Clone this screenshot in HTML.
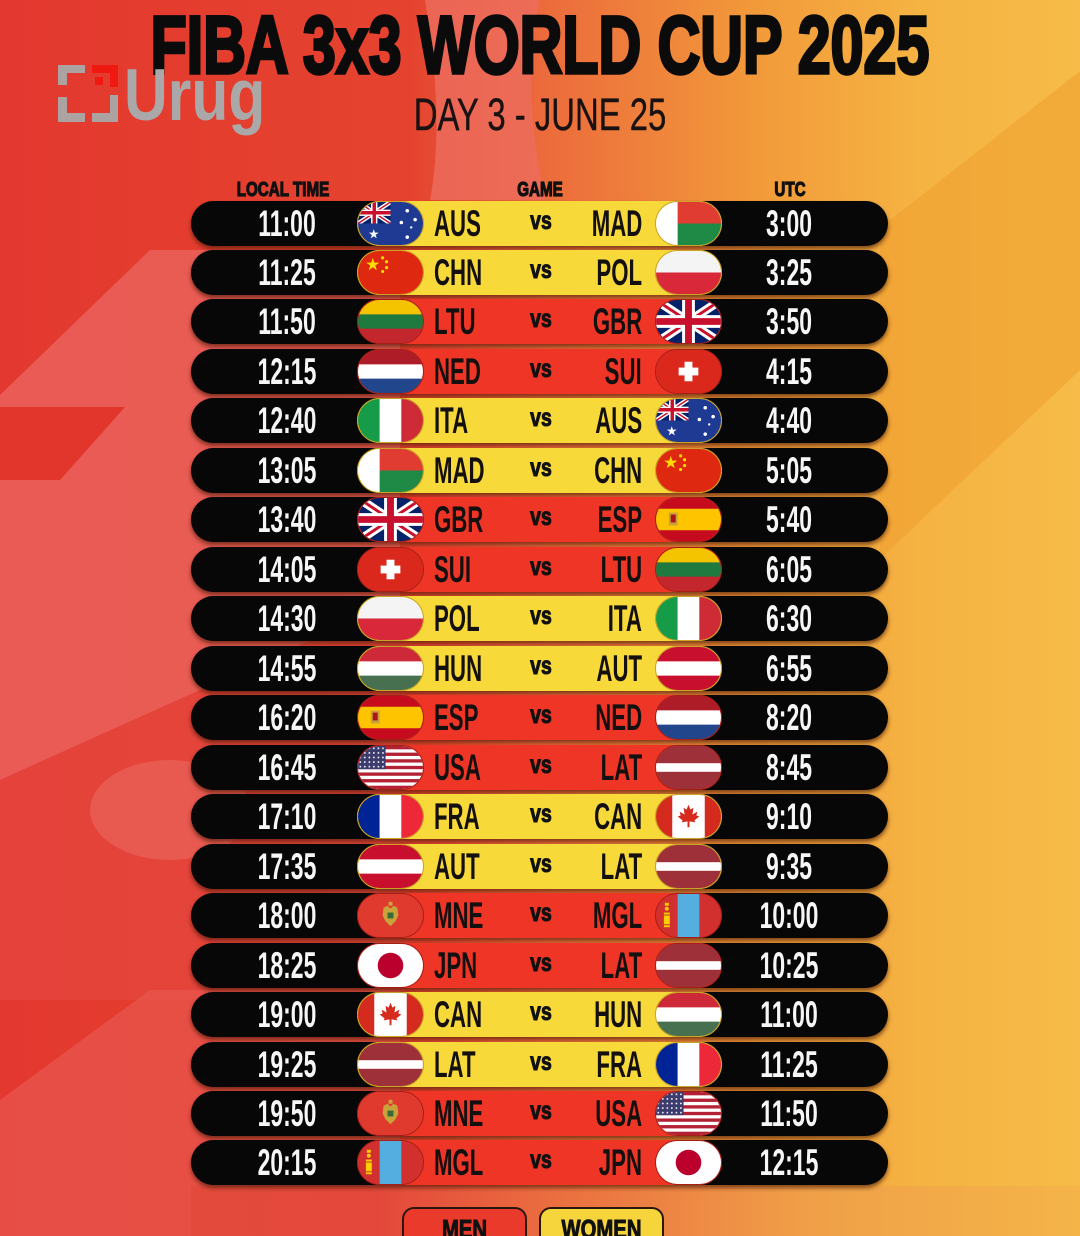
<!DOCTYPE html>
<html><head><meta charset="utf-8">
<style>
*{margin:0;padding:0}
html,body{width:1080px;height:1236px;overflow:hidden}
body{font-family:"Liberation Sans",sans-serif;background:#e8603a}
#wrap{position:relative;width:1080px;height:1236px;overflow:hidden}
.abs{position:absolute}
.title{position:absolute;left:0;top:5px;width:1080px;text-align:center;font-size:82px;line-height:82px;font-weight:bold;color:#0b0b0b;-webkit-text-stroke:3.5px #0b0b0b;transform:scaleX(.721);white-space:nowrap}
.sub{position:absolute;left:0;top:92px;width:1080px;text-align:center;font-size:45px;line-height:45px;color:#1a1212;-webkit-text-stroke:.4px #1a1212;transform:scaleX(.73);white-space:nowrap}
.logo{position:absolute;left:124px;top:59px;font-size:73px;line-height:73px;font-weight:bold;color:#aaa8a8;transform:scaleX(.83);transform-origin:0 50%;white-space:nowrap}
.hd{position:absolute;top:180px;width:200px;text-align:center;font-size:20px;line-height:20px;font-weight:bold;color:#111;-webkit-text-stroke:1.2px #111;transform:scaleX(.76);white-space:nowrap}
.row{position:absolute;left:191px;width:697px;height:45px;background:#070707;border-radius:23px;box-shadow:0 3px 4px rgba(70,25,5,.65)}
.band{position:absolute;left:166px;top:0;width:365px;height:45px;border-radius:23px}
.y .band{background:#f7d93a}
.r .band{background:#ee3526}
.fl{position:absolute;top:0;width:67px;height:45px;border-radius:23px;overflow:hidden;box-sizing:border-box;border:1.5px solid #c9a227}
.r .fl{border-color:#a51f17}
.fl svg{display:block;width:100%;height:100%}
.fl.l{left:166px}
.fl.rt{left:464px}
.tm{position:absolute;top:0;width:140px;height:45px;line-height:45px;text-align:center;color:#f6f6f6;font-size:37px;font-weight:bold;transform:scaleX(.62);white-space:nowrap}
.tm.a{left:26px}
.tm.b{left:528px}
.cd{position:absolute;top:0;height:45px;line-height:45px;font-size:37px;font-weight:bold;color:#141010;white-space:nowrap}
.cd.a{left:243px;transform:scaleX(.6);transform-origin:0 50%}
.cd.b{right:246px;transform:scaleX(.6);transform-origin:100% 50%}
.vs{position:absolute;left:320px;width:60px;top:-2px;height:45px;line-height:45px;text-align:center;font-size:25px;font-weight:bold;color:#111;-webkit-text-stroke:1px #111;transform:scaleX(.78)}
.lg{position:absolute;top:1207px;width:125px;height:52px;border:2px solid #2a1810;border-radius:12px;box-sizing:border-box}
.lgt{position:absolute;top:1216px;width:125px;text-align:center;font-size:26px;line-height:26px;font-weight:bold;color:#111;-webkit-text-stroke:1px #111;transform:scaleX(.78);white-space:nowrap}
</style></head><body><div id="wrap">

<svg class="abs" style="left:0;top:0" width="1080" height="1236">
<defs>
<linearGradient id="g" x1="0" y1="0" x2="1080" y2="0" gradientUnits="userSpaceOnUse">
<stop offset="0" stop-color="#e3382f"/>
<stop offset=".38" stop-color="#e5432f"/>
<stop offset=".5" stop-color="#ec6a3c"/>
<stop offset=".7" stop-color="#f29a3a"/>
<stop offset=".85" stop-color="#f5b342"/>
<stop offset="1" stop-color="#f6bb48"/>
</linearGradient>
<linearGradient id="g2" x1="0" y1="0" x2="1080" y2="0" gradientUnits="userSpaceOnUse">
<stop offset="0" stop-color="#e24c3e"/>
<stop offset=".35" stop-color="#e4483a"/>
<stop offset=".52" stop-color="#eb7040"/>
<stop offset=".75" stop-color="#f0a048"/>
<stop offset="1" stop-color="#f4b448"/>
</linearGradient>
</defs>
<rect width="1080" height="1236" fill="url(#g)"/>
<path d="M425,0 L540,0 Q520,80 545,200 L430,200 Q445,120 425,0Z" fill="#ec6d5e" opacity=".8"/>
<path d="M0,395 L150,250 L400,250 L400,600 L0,780Z" fill="#ea625a" opacity=".85"/>
<path d="M0,407 L125,407 L60,480 L0,480Z" fill="#e2352c"/>
<path d="M0,780 L400,600 L400,1000 L0,1000Z" fill="#e54a42" opacity=".6"/>
<ellipse cx="170" cy="810" rx="80" ry="50" fill="#ea625a" opacity=".7"/>
<path d="M0,1100 L150,990 L400,990 L400,1236 L0,1236Z" fill="#e8574e" opacity=".7"/>
<rect x="191" y="1186" width="889" height="50" fill="url(#g2)"/>
<path d="M880,228 L1080,71 L1080,370 L880,559Z" fill="#f0a030" opacity=".6"/>
<defs>
<pattern id="st" width="4.6" height="4.7" patternUnits="userSpaceOnUse"><circle cx="2.3" cy="2.35" r=".9" fill="#fff"/></pattern>
<symbol id="GBR" viewBox="0 0 66 44" preserveAspectRatio="none">
<rect width="66" height="44" fill="#012169"/>
<path d="M0,0L66,44M66,0L0,44" stroke="#fff" stroke-width="9"/>
<path d="M0,0L66,44M66,0L0,44" stroke="#C8102E" stroke-width="3"/>
<path d="M33,0V44M0,22H66" stroke="#fff" stroke-width="13"/>
<path d="M33,0V44M0,22H66" stroke="#C8102E" stroke-width="7"/>
</symbol>
<symbol id="AUS" viewBox="0 0 66 44" preserveAspectRatio="none">
<rect width="66" height="44" fill="#1f3a93"/>
<use href="#GBR" x="0" y="0" width="33" height="22"/>
<polygon transform="translate(16,33) scale(.75) translate(-15,-14)" fill="#fff" points="15,7 16.57,11.84 21.66,11.84 17.54,14.83 19.11,19.66 15,16.67 10.89,19.66 12.46,14.83 8.34,11.84 13.43,11.84"/>
<circle cx="50" cy="9" r="1.8" fill="#fff"/><circle cx="58" cy="18" r="1.8" fill="#fff"/><circle cx="44" cy="21" r="1.8" fill="#fff"/><circle cx="54" cy="26" r="1.2" fill="#fff"/><circle cx="50" cy="36" r="1.8" fill="#fff"/>
</symbol>
<symbol id="MAD" viewBox="0 0 66 44" preserveAspectRatio="none"><rect width="22" height="44" fill="#fff"/><rect x="22" width="44" height="22" fill="#e03c31"/><rect x="22" y="22" width="44" height="22" fill="#1e8a46"/></symbol>
<symbol id="CHN" viewBox="0 0 66 44" preserveAspectRatio="none"><rect width="66" height="44" fill="#de2910"/>
<polygon fill="#ffde00" points="15,7 16.57,11.84 21.66,11.84 17.54,14.83 19.11,19.66 15,16.67 10.89,19.66 12.46,14.83 8.34,11.84 13.43,11.84"/>
<circle cx="25" cy="7" r="1.6" fill="#ffde00"/><circle cx="29" cy="11" r="1.6" fill="#ffde00"/><circle cx="29" cy="17" r="1.6" fill="#ffde00"/><circle cx="25" cy="21" r="1.6" fill="#ffde00"/></symbol>
<symbol id="POL" viewBox="0 0 66 44" preserveAspectRatio="none"><rect width="66" height="22" fill="#f4f4f4"/><rect y="22" width="66" height="22" fill="#d9283a"/></symbol>
<symbol id="LTU" viewBox="0 0 66 44" preserveAspectRatio="none"><rect width="66" height="15" fill="#f5c400"/><rect y="14.7" width="66" height="15" fill="#1e7a3e"/><rect y="29.3" width="66" height="15" fill="#c1272d"/></symbol>
<symbol id="NED" viewBox="0 0 66 44" preserveAspectRatio="none"><rect width="66" height="15" fill="#ae1c28"/><rect y="14.7" width="66" height="15" fill="#fff"/><rect y="29.3" width="66" height="15" fill="#21468b"/></symbol>
<symbol id="SUI" viewBox="0 0 66 44" preserveAspectRatio="none"><rect width="66" height="44" fill="#da291c"/><rect x="29" y="12" width="8" height="20" fill="#fff"/><rect x="23" y="18" width="20" height="8" fill="#fff"/></symbol>
<symbol id="ITA" viewBox="0 0 66 44" preserveAspectRatio="none"><rect width="22" height="44" fill="#169b48"/><rect x="22" width="22" height="44" fill="#fff"/><rect x="44" width="22" height="44" fill="#ce2b37"/></symbol>
<symbol id="ESP" viewBox="0 0 66 44" preserveAspectRatio="none"><rect width="66" height="44" fill="#c60b1e"/><rect y="11" width="66" height="22" fill="#ffc400"/><rect x="13" y="15" width="9" height="13" fill="#c8a040"/><rect x="15" y="17" width="5" height="8" fill="#ad1519"/></symbol>
<symbol id="HUN" viewBox="0 0 66 44" preserveAspectRatio="none"><rect width="66" height="15" fill="#ce2939"/><rect y="14.7" width="66" height="15" fill="#fff"/><rect y="29.3" width="66" height="15" fill="#477050"/></symbol>
<symbol id="AUT" viewBox="0 0 66 44" preserveAspectRatio="none"><rect width="66" height="15" fill="#c8102e"/><rect y="14.7" width="66" height="15" fill="#fff"/><rect y="29.3" width="66" height="15" fill="#c8102e"/></symbol>
<symbol id="USA" viewBox="0 0 66 44" preserveAspectRatio="none"><rect width="66" height="44" fill="#fff"/>
<rect y="0" width="66" height="3.4" fill="#b22234"/><rect y="6.77" width="66" height="3.4" fill="#b22234"/><rect y="13.54" width="66" height="3.4" fill="#b22234"/><rect y="20.31" width="66" height="3.4" fill="#b22234"/><rect y="27.08" width="66" height="3.4" fill="#b22234"/><rect y="33.85" width="66" height="3.4" fill="#b22234"/><rect y="40.62" width="66" height="3.4" fill="#b22234"/>
<rect width="28" height="23.7" fill="#3c3b6e"/><rect width="28" height="23.7" fill="url(#st)"/></symbol>
<symbol id="LAT" viewBox="0 0 66 44" preserveAspectRatio="none"><rect width="66" height="44" fill="#9e3039"/><rect y="17.6" width="66" height="8.8" fill="#fff"/></symbol>
<symbol id="FRA" viewBox="0 0 66 44" preserveAspectRatio="none"><rect width="22" height="44" fill="#002395"/><rect x="22" width="22" height="44" fill="#fff"/><rect x="44" width="22" height="44" fill="#ed2939"/></symbol>
<symbol id="CAN" viewBox="0 0 66 44" preserveAspectRatio="none"><rect width="66" height="44" fill="#d52b1e"/><rect x="16.5" width="33" height="44" fill="#fff"/>
<polygon fill="#d52b1e" points="33,10 35,15 38,13 37,20 42,17 41,21 44,22 39,26 40,28 34,27 34,33 32,33 32,27 26,28 27,26 22,22 25,21 24,17 29,20 28,13 31,15"/></symbol>
<symbol id="MNE" viewBox="0 0 66 44" preserveAspectRatio="none"><rect width="66" height="44" fill="#e0392e"/>
<polygon fill="#c9a33a" points="26,14 30,12 33,15 36,12 40,14 41,22 38,28 35,31 33,33 31,31 28,28 25,22"/><rect x="31" y="8" width="4" height="4" fill="#c9a33a"/><rect x="30" y="19" width="6" height="6" fill="#3a6a3a"/></symbol>
<symbol id="MGL" viewBox="0 0 66 44" preserveAspectRatio="none"><rect width="66" height="44" fill="#d2302e"/><rect x="22" width="22" height="44" fill="#55aee0"/>
<rect x="9" y="9" width="4" height="3" fill="#f9cf02"/><circle cx="11" cy="15" r="2" fill="#f9cf02"/><rect x="8" y="19" width="6" height="2" fill="#f9cf02"/><rect x="8" y="22" width="6" height="9" fill="#f9cf02"/><rect x="8" y="32" width="6" height="2" fill="#f9cf02"/></symbol>
<symbol id="JPN" viewBox="0 0 66 44" preserveAspectRatio="none"><rect width="66" height="44" fill="#fff"/><circle cx="33" cy="22" r="13" fill="#bc002d"/></symbol>
</defs>
</svg>

<div class="title">FIBA 3x3 WORLD CUP 2025</div>
<div class="sub">DAY 3 - JUNE 25</div>

<svg class="abs" style="left:0;top:0;opacity:.95" width="130" height="130">
<g fill="#aaa8a8">
<rect x="58" y="65" width="27" height="8"/><rect x="58" y="65" width="9" height="20"/>
<rect x="58" y="97" width="9" height="25"/><rect x="58" y="113" width="27" height="9"/>
<rect x="92" y="113" width="26" height="9"/><rect x="110" y="95" width="8" height="27"/>
</g>
<g fill="#f01810">
<rect x="92" y="65" width="26" height="8"/><rect x="110" y="65" width="8" height="22"/><rect x="95" y="77" width="8" height="8"/>
</g>
</svg>
<div class="logo">Urug</div>

<div class="hd" style="left:183px">LOCAL TIME</div>
<div class="hd" style="left:440px">GAME</div>
<div class="hd" style="left:690px">UTC</div>

<div class="row y" style="top:200.5px"><div class="band"></div><div class="fl l"><svg viewBox="0 0 66 44" preserveAspectRatio="none"><use href="#AUS"/></svg></div><div class="fl rt"><svg viewBox="0 0 66 44" preserveAspectRatio="none"><use href="#MAD"/></svg></div><div class="tm a">11:00</div><div class="cd a">AUS</div><div class="vs">vs</div><div class="cd b">MAD</div><div class="tm b">3:00</div></div>
<div class="row y" style="top:250px"><div class="band"></div><div class="fl l"><svg viewBox="0 0 66 44" preserveAspectRatio="none"><use href="#CHN"/></svg></div><div class="fl rt"><svg viewBox="0 0 66 44" preserveAspectRatio="none"><use href="#POL"/></svg></div><div class="tm a">11:25</div><div class="cd a">CHN</div><div class="vs">vs</div><div class="cd b">POL</div><div class="tm b">3:25</div></div>
<div class="row r" style="top:299.4px"><div class="band"></div><div class="fl l"><svg viewBox="0 0 66 44" preserveAspectRatio="none"><use href="#LTU"/></svg></div><div class="fl rt"><svg viewBox="0 0 66 44" preserveAspectRatio="none"><use href="#GBR"/></svg></div><div class="tm a">11:50</div><div class="cd a">LTU</div><div class="vs">vs</div><div class="cd b">GBR</div><div class="tm b">3:50</div></div>
<div class="row r" style="top:348.9px"><div class="band"></div><div class="fl l"><svg viewBox="0 0 66 44" preserveAspectRatio="none"><use href="#NED"/></svg></div><div class="fl rt"><svg viewBox="0 0 66 44" preserveAspectRatio="none"><use href="#SUI"/></svg></div><div class="tm a">12:15</div><div class="cd a">NED</div><div class="vs">vs</div><div class="cd b">SUI</div><div class="tm b">4:15</div></div>
<div class="row y" style="top:398.4px"><div class="band"></div><div class="fl l"><svg viewBox="0 0 66 44" preserveAspectRatio="none"><use href="#ITA"/></svg></div><div class="fl rt"><svg viewBox="0 0 66 44" preserveAspectRatio="none"><use href="#AUS"/></svg></div><div class="tm a">12:40</div><div class="cd a">ITA</div><div class="vs">vs</div><div class="cd b">AUS</div><div class="tm b">4:40</div></div>
<div class="row y" style="top:447.9px"><div class="band"></div><div class="fl l"><svg viewBox="0 0 66 44" preserveAspectRatio="none"><use href="#MAD"/></svg></div><div class="fl rt"><svg viewBox="0 0 66 44" preserveAspectRatio="none"><use href="#CHN"/></svg></div><div class="tm a">13:05</div><div class="cd a">MAD</div><div class="vs">vs</div><div class="cd b">CHN</div><div class="tm b">5:05</div></div>
<div class="row r" style="top:497.3px"><div class="band"></div><div class="fl l"><svg viewBox="0 0 66 44" preserveAspectRatio="none"><use href="#GBR"/></svg></div><div class="fl rt"><svg viewBox="0 0 66 44" preserveAspectRatio="none"><use href="#ESP"/></svg></div><div class="tm a">13:40</div><div class="cd a">GBR</div><div class="vs">vs</div><div class="cd b">ESP</div><div class="tm b">5:40</div></div>
<div class="row r" style="top:546.8px"><div class="band"></div><div class="fl l"><svg viewBox="0 0 66 44" preserveAspectRatio="none"><use href="#SUI"/></svg></div><div class="fl rt"><svg viewBox="0 0 66 44" preserveAspectRatio="none"><use href="#LTU"/></svg></div><div class="tm a">14:05</div><div class="cd a">SUI</div><div class="vs">vs</div><div class="cd b">LTU</div><div class="tm b">6:05</div></div>
<div class="row y" style="top:596.3px"><div class="band"></div><div class="fl l"><svg viewBox="0 0 66 44" preserveAspectRatio="none"><use href="#POL"/></svg></div><div class="fl rt"><svg viewBox="0 0 66 44" preserveAspectRatio="none"><use href="#ITA"/></svg></div><div class="tm a">14:30</div><div class="cd a">POL</div><div class="vs">vs</div><div class="cd b">ITA</div><div class="tm b">6:30</div></div>
<div class="row y" style="top:645.7px"><div class="band"></div><div class="fl l"><svg viewBox="0 0 66 44" preserveAspectRatio="none"><use href="#HUN"/></svg></div><div class="fl rt"><svg viewBox="0 0 66 44" preserveAspectRatio="none"><use href="#AUT"/></svg></div><div class="tm a">14:55</div><div class="cd a">HUN</div><div class="vs">vs</div><div class="cd b">AUT</div><div class="tm b">6:55</div></div>
<div class="row r" style="top:695.2px"><div class="band"></div><div class="fl l"><svg viewBox="0 0 66 44" preserveAspectRatio="none"><use href="#ESP"/></svg></div><div class="fl rt"><svg viewBox="0 0 66 44" preserveAspectRatio="none"><use href="#NED"/></svg></div><div class="tm a">16:20</div><div class="cd a">ESP</div><div class="vs">vs</div><div class="cd b">NED</div><div class="tm b">8:20</div></div>
<div class="row r" style="top:744.7px"><div class="band"></div><div class="fl l"><svg viewBox="0 0 66 44" preserveAspectRatio="none"><use href="#USA"/></svg></div><div class="fl rt"><svg viewBox="0 0 66 44" preserveAspectRatio="none"><use href="#LAT"/></svg></div><div class="tm a">16:45</div><div class="cd a">USA</div><div class="vs">vs</div><div class="cd b">LAT</div><div class="tm b">8:45</div></div>
<div class="row y" style="top:794.1px"><div class="band"></div><div class="fl l"><svg viewBox="0 0 66 44" preserveAspectRatio="none"><use href="#FRA"/></svg></div><div class="fl rt"><svg viewBox="0 0 66 44" preserveAspectRatio="none"><use href="#CAN"/></svg></div><div class="tm a">17:10</div><div class="cd a">FRA</div><div class="vs">vs</div><div class="cd b">CAN</div><div class="tm b">9:10</div></div>
<div class="row y" style="top:843.6px"><div class="band"></div><div class="fl l"><svg viewBox="0 0 66 44" preserveAspectRatio="none"><use href="#AUT"/></svg></div><div class="fl rt"><svg viewBox="0 0 66 44" preserveAspectRatio="none"><use href="#LAT"/></svg></div><div class="tm a">17:35</div><div class="cd a">AUT</div><div class="vs">vs</div><div class="cd b">LAT</div><div class="tm b">9:35</div></div>
<div class="row r" style="top:893.1px"><div class="band"></div><div class="fl l"><svg viewBox="0 0 66 44" preserveAspectRatio="none"><use href="#MNE"/></svg></div><div class="fl rt"><svg viewBox="0 0 66 44" preserveAspectRatio="none"><use href="#MGL"/></svg></div><div class="tm a">18:00</div><div class="cd a">MNE</div><div class="vs">vs</div><div class="cd b">MGL</div><div class="tm b">10:00</div></div>
<div class="row r" style="top:942.6px"><div class="band"></div><div class="fl l"><svg viewBox="0 0 66 44" preserveAspectRatio="none"><use href="#JPN"/></svg></div><div class="fl rt"><svg viewBox="0 0 66 44" preserveAspectRatio="none"><use href="#LAT"/></svg></div><div class="tm a">18:25</div><div class="cd a">JPN</div><div class="vs">vs</div><div class="cd b">LAT</div><div class="tm b">10:25</div></div>
<div class="row y" style="top:992px"><div class="band"></div><div class="fl l"><svg viewBox="0 0 66 44" preserveAspectRatio="none"><use href="#CAN"/></svg></div><div class="fl rt"><svg viewBox="0 0 66 44" preserveAspectRatio="none"><use href="#HUN"/></svg></div><div class="tm a">19:00</div><div class="cd a">CAN</div><div class="vs">vs</div><div class="cd b">HUN</div><div class="tm b">11:00</div></div>
<div class="row y" style="top:1041.5px"><div class="band"></div><div class="fl l"><svg viewBox="0 0 66 44" preserveAspectRatio="none"><use href="#LAT"/></svg></div><div class="fl rt"><svg viewBox="0 0 66 44" preserveAspectRatio="none"><use href="#FRA"/></svg></div><div class="tm a">19:25</div><div class="cd a">LAT</div><div class="vs">vs</div><div class="cd b">FRA</div><div class="tm b">11:25</div></div>
<div class="row r" style="top:1091px"><div class="band"></div><div class="fl l"><svg viewBox="0 0 66 44" preserveAspectRatio="none"><use href="#MNE"/></svg></div><div class="fl rt"><svg viewBox="0 0 66 44" preserveAspectRatio="none"><use href="#USA"/></svg></div><div class="tm a">19:50</div><div class="cd a">MNE</div><div class="vs">vs</div><div class="cd b">USA</div><div class="tm b">11:50</div></div>
<div class="row r" style="top:1140.4px"><div class="band"></div><div class="fl l"><svg viewBox="0 0 66 44" preserveAspectRatio="none"><use href="#MGL"/></svg></div><div class="fl rt"><svg viewBox="0 0 66 44" preserveAspectRatio="none"><use href="#JPN"/></svg></div><div class="tm a">20:15</div><div class="cd a">MGL</div><div class="vs">vs</div><div class="cd b">JPN</div><div class="tm b">12:15</div></div>

<div class="lg" style="left:402px;background:#ea3a2c"></div>
<div class="lg" style="left:539px;background:#f5d43c"></div>
<div class="lgt" style="left:402px">MEN</div>
<div class="lgt" style="left:539px">WOMEN</div>

</div></body></html>
